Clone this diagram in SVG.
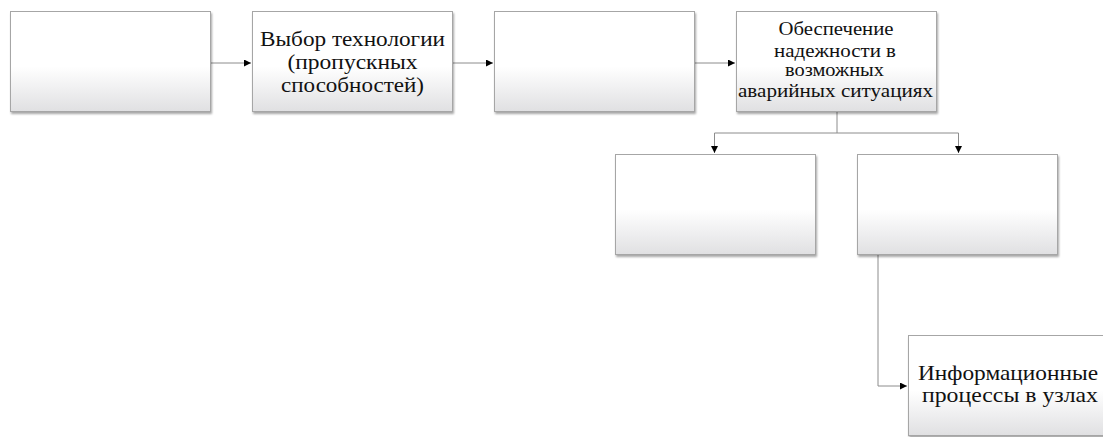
<svg xmlns="http://www.w3.org/2000/svg" width="1103" height="437" viewBox="0 0 1103 437">
  <style>
    .box { fill: url(#boxFill); stroke: #a6a6a6; stroke-width: 1; filter: url(#shadow); }
    .lbl { font-family: "Liberation Serif", "Times New Roman", serif; fill: #111; text-anchor: middle; }
    .big { font-size: 21px; }
    .mid { font-size: 19px; }
    .conn { fill: none; stroke: #8c8c8c; stroke-width: 1; }
  </style>
  <defs>
    <linearGradient id="boxFill" x1="0" y1="0" x2="0" y2="1">
      <stop offset="0" stop-color="#ffffff"/>
      <stop offset="0.55" stop-color="#ffffff"/>
      <stop offset="1" stop-color="#e0e0e2"/>
    </linearGradient>
    <filter id="shadow" x="-5%" y="-5%" width="115%" height="120%">
      <feGaussianBlur in="SourceAlpha" stdDeviation="1.2"/>
      <feOffset dx="1" dy="2" result="b"/>
      <feComponentTransfer><feFuncA type="linear" slope="0.35"/></feComponentTransfer>
      <feMerge><feMergeNode/><feMergeNode in="SourceGraphic"/></feMerge>
    </filter>
    <marker id="arrow" viewBox="0 0 10 10" refX="10" refY="5" markerWidth="7" markerHeight="7" markerUnits="userSpaceOnUse" orient="auto">
      <path d="M0,0 L10,5 L0,10 z" fill="#000"/>
    </marker>
  </defs>

  <g id="connectors">
    <path class="conn" d="M211,63 H251" marker-end="url(#arrow)"/>
    <path class="conn" d="M453,63 H493" marker-end="url(#arrow)"/>
    <path class="conn" d="M695,63 H735" marker-end="url(#arrow)"/>
    <path class="conn" d="M837,112 V133 H714.5 V153" marker-end="url(#arrow)"/>
    <path class="conn" d="M837,133 H958.5 V153" marker-end="url(#arrow)"/>
    <path class="conn" d="M878,255 V386 H907" marker-end="url(#arrow)"/>
  </g>

  <g id="node1">
    <rect class="box" x="10.5" y="11.5" width="200" height="100"/>
  </g>
  <g id="node2">
    <rect class="box" x="252.5" y="11.5" width="200" height="100"/>
    <text class="lbl big" x="352.5" y="46" textLength="185" lengthAdjust="spacingAndGlyphs">Выбор технологии</text>
    <text class="lbl big" x="352.5" y="69" textLength="130" lengthAdjust="spacingAndGlyphs">(пропускных</text>
    <text class="lbl big" x="352.5" y="92" textLength="143" lengthAdjust="spacingAndGlyphs">способностей)</text>
  </g>
  <g id="node3">
    <rect class="box" x="494.5" y="11.5" width="200" height="100"/>
  </g>
  <g id="node4">
    <rect class="box" x="736.5" y="11.5" width="200" height="100"/>
    <text class="lbl mid" x="836" y="35" textLength="115" lengthAdjust="spacingAndGlyphs">Обеспечение</text>
    <text class="lbl mid" x="835" y="57" textLength="122" lengthAdjust="spacingAndGlyphs">надежности в</text>
    <text class="lbl mid" x="834.5" y="76" textLength="99" lengthAdjust="spacingAndGlyphs">возможных</text>
    <text class="lbl mid" x="835.5" y="97" textLength="195" lengthAdjust="spacingAndGlyphs">аварийных ситуациях</text>
  </g>
  <g id="node5">
    <rect class="box" x="615.5" y="154.5" width="200" height="100"/>
  </g>
  <g id="node6">
    <rect class="box" x="857.5" y="154.5" width="200" height="100"/>
  </g>
  <g id="node7">
    <rect class="box" x="908.5" y="335.5" width="200" height="100"/>
    <text class="lbl big" x="1008" y="380" textLength="180" lengthAdjust="spacingAndGlyphs">Информационные</text>
    <text class="lbl big" x="1010" y="402" textLength="176" lengthAdjust="spacingAndGlyphs">процессы в узлах</text>
  </g>
</svg>
